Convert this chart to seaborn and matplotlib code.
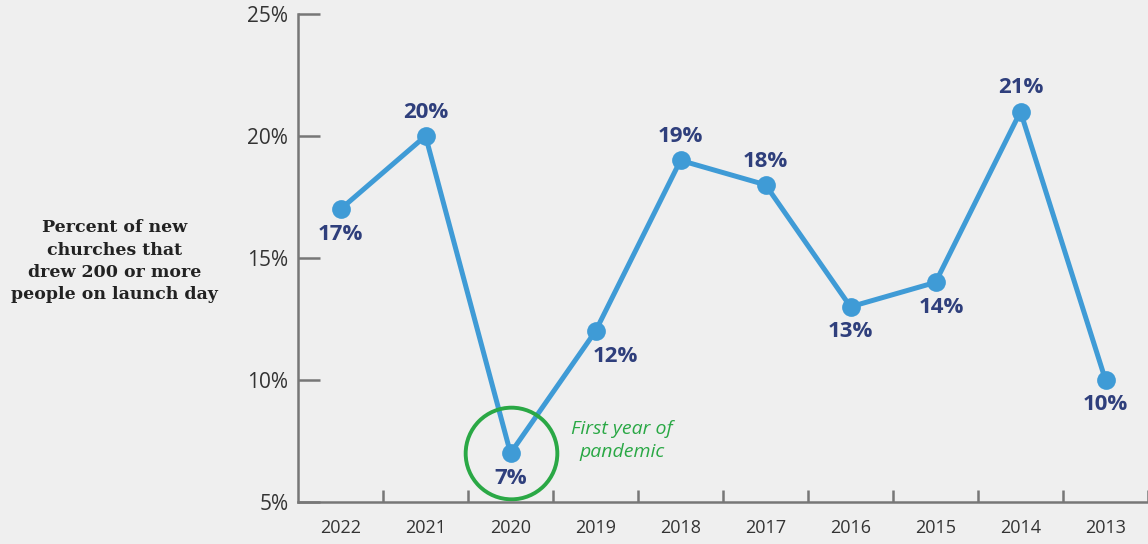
import matplotlib
matplotlib.use("Agg")
import matplotlib.pyplot as plt
import seaborn as sns
import pandas as pd

years = ["2022", "2021", "2020", "2019", "2018", "2017", "2016", "2015", "2014", "2013"]
values = [17, 20, 7, 12, 19, 18, 13, 14, 21, 10]
label_above = [False, True, False, False, True, True, False, False, True, False]
label_dx = [0, 0, 0, 14, 0, 0, 0, 4, 0, 0]
y_ticks = [5, 10, 15, 20, 25]

BG = "#efefef"
BLUE = "#3f9bd6"
NAVY = "#2f3f7c"
GREEN = "#2aa845"
AXIS = "#777777"
TXT = "#333333"

sns.set_theme(style="white")
plt.rcParams["font.family"] = ["Open Sans", "DejaVu Sans"]

fig = plt.figure(figsize=(11.48, 5.44), dpi=100, facecolor=BG)
ax = fig.add_axes([0.2596, 0.0772, 0.7404, 0.8971])
ax.set_facecolor(BG)

df = pd.DataFrame({"year": years, "value": values, "x": range(len(years))})
sns.lineplot(data=df, x="x", y="value", ax=ax, color=BLUE, linewidth=3.6,
             marker="o", markersize=13.5, markeredgewidth=0, markerfacecolor=BLUE,
             sort=False, legend=False)

for i, (v, up, dx) in enumerate(zip(values, label_above, label_dx)):
    ax.annotate(f"{v}%", (i, v), xytext=(dx, 17 if up else -18), textcoords="offset points",
                ha="center", va="center", fontsize=16, fontweight="bold", color=NAVY)

# highlight circle around 2020
i2020 = years.index("2020")
ax.plot([i2020], [values[i2020]], marker="o", markersize=66, markerfacecolor="none",
        markeredgecolor=GREEN, markeredgewidth=2.8, linestyle="none")
ax.annotate("First year of\npandemic", (i2020, values[i2020]), xytext=(80, 9),
            textcoords="offset points", ha="center", va="center", fontsize=14,
            style="italic", color=GREEN, linespacing=1.35)

ax.set_xlim(-0.5, len(years) - 0.5)
ax.set_ylim(5, 25)
ax.set_yticks(y_ticks)
ax.set_yticklabels([f"{t}%" for t in y_ticks], fontsize=15, color=TXT)
ax.set_xticks([i - 0.5 for i in range(1, len(years) + 1)])
ax.set_xticklabels([])
ax.set_xticks(range(len(years)), minor=True)
ax.set_xticklabels(years, minor=True, fontsize=13, color=TXT)
ax.tick_params(axis="x", which="major", bottom=True, direction="in", length=9, width=1.8, color=AXIS)
ax.tick_params(axis="x", which="minor", bottom=False, length=0, pad=12)
ax.tick_params(axis="y", left=True, direction="in", length=16, width=1.8, color=AXIS, pad=7)
ax.set_xlabel("")
ax.set_ylabel("")
for s in ["top", "right"]:
    ax.spines[s].set_visible(False)
for s in ["left", "bottom"]:
    ax.spines[s].set_color(AXIS)
    ax.spines[s].set_linewidth(1.8)

fig.text(0.1, 0.52, "Percent of new\nchurches that\ndrew 200 or more\npeople on launch day",
         ha="center", va="center", fontsize=12.5, fontweight="bold",
         family=["DejaVu Serif"], color="#222222", linespacing=1.4)

fig.savefig("out.png", dpi=100, facecolor=BG)
